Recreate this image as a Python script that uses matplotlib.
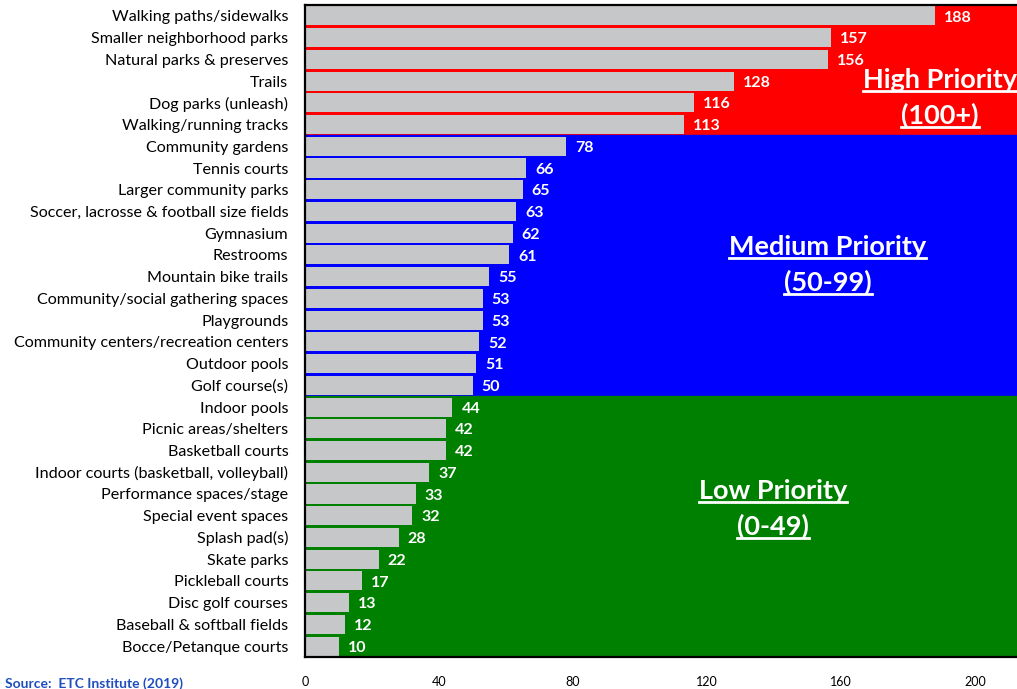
import matplotlib
matplotlib.use("Agg")
import matplotlib.pyplot as plt
from matplotlib.lines import Line2D

plt.rcParams['font.family'] = ['Lato', 'DejaVu Sans']

categories = [
    "Walking paths/sidewalks", "Smaller neighborhood parks", "Natural parks & preserves",
    "Trails", "Dog parks (unleash)", "Walking/running tracks", "Community gardens",
    "Tennis courts", "Larger community parks", "Soccer, lacrosse & football size fields",
    "Gymnasium", "Restrooms", "Mountain bike trails", "Community/social gathering spaces",
    "Playgrounds", "Community centers/recreation centers", "Outdoor pools", "Golf course(s)",
    "Indoor pools", "Picnic areas/shelters", "Basketball courts",
    "Indoor courts (basketball, volleyball)", "Performance spaces/stage",
    "Special event spaces", "Splash pad(s)", "Skate parks", "Pickleball courts",
    "Disc golf courses", "Baseball & softball fields", "Bocce/Petanque courts",
]
values = [188, 157, 156, 128, 116, 113, 78, 66, 65, 63, 62, 61, 55, 53, 53, 52, 51, 50,
          44, 42, 42, 37, 33, 32, 28, 22, 17, 13, 12, 10]

# priority bands: first row, last row, colour, label lines
band_rows = [(0, 5), (6, 17), (18, 29)]
band_colors = ["#FF0000", "#0000FF", "#008000"]
band_labels = [["High Priority", "(100+)"], ["Medium Priority", "(50-99)"],
               ["Low Priority", "(0-49)"]]
# where the label sits (x value, row of the first line)
band_label_x = [189.5, 156, 139.7]
band_label_row = [2.95, 10.64, 21.87]
xticks = [0, 40, 80, 120, 160, 200]

fig = plt.figure(figsize=(10.17, 6.89), dpi=100)
ax = fig.add_axes([305 / 1017, 1 - 657 / 689, 1 - 305 / 1017, (657 - 5) / 689])

pos = list(range(len(categories)))
for (start, end), col in zip(band_rows, band_colors):
    ax.axhspan(start - 0.5, end + 0.5, color=col, zorder=0)

ax.barh(pos, values, height=0.88, color="#C6C7C9", zorder=2)
for p, v in zip(pos, values):
    ax.annotate(str(v), (v, p), xytext=(6.5, -1.2), textcoords="offset points",
                ha="left", va="center", color="white", fontsize=11.5,
                fontweight="bold", zorder=3)

ax.set_xlim(0, 212.5)
ax.set_ylim(len(categories) - 0.5, -0.5)
ax.set_yticks(pos)
ax.set_yticklabels(categories, fontsize=11.6)
ax.set_xticks(xticks)
ax.set_xticklabels([str(t) for t in xticks], fontsize=9)
ax.tick_params(axis="both", length=0)
ax.tick_params(axis="y", pad=12)
ax.tick_params(axis="x", pad=14)
ax.spines["right"].set_visible(False)
for s in ["left", "top", "bottom"]:
    ax.spines[s].set_linewidth(1.6)
    ax.spines[s].set_color("black")
    ax.spines[s].set_zorder(4)

band_texts = []
for lines, lx, ly in zip(band_labels, band_label_x, band_label_row):
    for i, line in enumerate(lines):
        t = ax.text(lx, ly + i * 1.63, line, ha="center", va="center", color="white",
                    fontsize=19.5, fontweight="bold", zorder=3)
        band_texts.append(t)

fig.text(5 / 1017, 1 - 684 / 689, "Source:  ETC Institute (2019)", color="#1F4EBD",
         fontsize=10, fontweight="bold", ha="left", va="center")

# underline the band labels
fig.canvas.draw()
renderer = fig.canvas.get_renderer()
for t in band_texts:
    bb = t.get_window_extent(renderer)
    y = bb.y0 + 1
    fig.add_artist(Line2D([bb.x0 / fig.bbox.width, bb.x1 / fig.bbox.width],
                          [y / fig.bbox.height, y / fig.bbox.height],
                          color="white", linewidth=2, zorder=5))

fig.savefig("out.png", dpi=100)
